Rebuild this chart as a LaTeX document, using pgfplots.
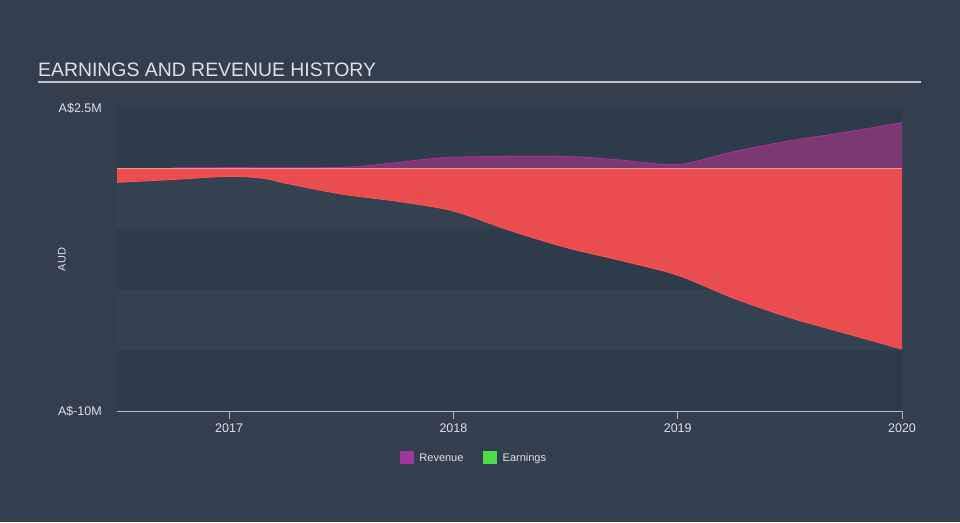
\documentclass[border=0pt]{standalone}
\usepackage{pgfplots}
\pgfplotsset{compat=1.18}
\usepackage{fontspec}
\setmainfont{Liberation Sans}
\definecolor{bg}{RGB}{51,63,78}
\definecolor{banddark}{RGB}{46,59,75}
\definecolor{bandlight}{RGB}{52,65,81}
\definecolor{revfill}{RGB}{123,56,115}
\definecolor{revline}{RGB}{176,48,158}
\definecolor{earnfill}{RGB}{233,77,80}
\definecolor{earnline}{RGB}{255,82,82}
\definecolor{legrev}{RGB}{160,55,156}
\definecolor{legearn}{RGB}{75,224,75}
\definecolor{txt}{RGB}{222,226,230}
\definecolor{axln}{RGB}{176,184,192}
\begin{document}
\begin{tikzpicture}[x=1pt,y=1pt]
\fill[bg] (0,0) rectangle (960,522);
\node[anchor=base west, font=\fontsize{19.4}{20}\selectfont, text=txt, inner sep=0] at (38,445) {EARNINGS AND REVENUE HISTORY};
\draw[line width=1.5pt, color={rgb,255:red,190;green,195;blue,200}] (38,440) -- (921,440);
\begin{axis}[
  at={(117pt,111pt)}, anchor=south west, scale only axis,
  width=785pt, height=303pt,
  xmin=2016.5, xmax=2020, ymin=-10, ymax=2.5,
  axis x line*=bottom, axis y line*=left,
  x axis line style={color=axln, line width=1pt, -},
  y axis line style={draw=none},
  xtick={2017,2018,2019,2020},
  xticklabels={2017,2018,2019,2020},
  xtick align=outside, major tick length=8pt,
  xtick style={color=axln, line width=1pt},
  ytick={-10,2.5}, yticklabels={A\$-10M,A\$2.5M},
  ytick style={draw=none},
  yticklabel style={anchor=east, inner sep=0pt, xshift=-15pt},
  xticklabel style={yshift=-1pt},
  tick label style={font=\fontsize{12.5}{13}\selectfont, text=txt},
  /pgf/number format/assume math mode=true,
  ylabel={AUD},
  ylabel style={at={(rel axis cs:0,0.5)}, anchor=center, yshift=55pt, font=\fontsize{11}{12}\selectfont, text=txt},
  legend style={at={(0.455,-0.155)}, anchor=center, draw=none, fill=none,
    legend columns=2, font=\fontsize{11}{12}\selectfont, text=txt,
    /tikz/every even column/.append style={column sep=18pt}},
  clip=true,
]
\fill[bandlight] (2016.5,2.5) rectangle (2020,-10);
\fill[banddark] (2016.5,2.5) rectangle (2020,0);
\fill[banddark] (2016.5,-2.5) rectangle (2020,-5);
\fill[banddark] (2016.5,-7.5) rectangle (2020,-10);

\addlegendimage{legend image code/.code={\fill[legrev] (0pt,-5.5pt) rectangle (13pt,6.5pt); \path[draw=none,fill=none] (13pt,0pt) -- (17pt,0pt);}}
\addlegendentry{Revenue}
\addlegendimage{legend image code/.code={\fill[legearn] (0pt,-5.5pt) rectangle (13pt,6.5pt); \path[draw=none,fill=none] (13pt,0pt) -- (17pt,0pt);}}
\addlegendentry{Earnings}

% Earnings
\addplot[fill=earnfill, draw=none, smooth, forget plot] coordinates {
(2016.5,-0.57) (2016.75,-0.45) (2017.0,-0.32) (2017.15,-0.4) (2017.25,-0.6)
(2017.5,-1.05) (2017.75,-1.35) (2018.0,-1.75) (2018.25,-2.55) (2018.5,-3.25)
(2018.75,-3.8) (2019.0,-4.4) (2019.25,-5.35) (2019.5,-6.15) (2019.75,-6.8) (2020.0,-7.45)
} \closedcycle;
% Revenue
\addplot[fill=revfill, draw=none, smooth, forget plot] coordinates {
(2016.75,0.03) (2017.0,0.04) (2017.5,0.05) (2017.75,0.25) (2018.0,0.47)
(2018.5,0.5) (2018.75,0.35) (2019.0,0.17) (2019.25,0.7) (2019.5,1.15)
(2019.75,1.5) (2020.0,1.9)
} \closedcycle;
\addplot[earnline, line width=0.8pt, smooth, forget plot] coordinates {
(2016.5,-0.57) (2016.75,-0.45) (2017.0,-0.32) (2017.15,-0.4) (2017.25,-0.6)
(2017.5,-1.05) (2017.75,-1.35) (2018.0,-1.75) (2018.25,-2.55) (2018.5,-3.25)
(2018.75,-3.8) (2019.0,-4.4) (2019.25,-5.35) (2019.5,-6.15) (2019.75,-6.8) (2020.0,-7.45)
};
\addplot[revline, line width=0.8pt, smooth, forget plot] coordinates {
(2016.75,0.03) (2017.0,0.04) (2017.5,0.05) (2017.75,0.25) (2018.0,0.47)
(2018.5,0.5) (2018.75,0.35) (2019.0,0.17) (2019.25,0.7) (2019.5,1.15)
(2019.75,1.5) (2020.0,1.9)
};
\addplot[legearn!70!black, line width=0.8pt, forget plot] coordinates {(2016.5,0.02) (2016.75,0.02)};
\addplot[color={rgb,255:red,230;green,150;blue,150}, line width=0.6pt, forget plot] coordinates {(2016.5,0) (2020,0)};
\end{axis}
\end{tikzpicture}
\end{document}
